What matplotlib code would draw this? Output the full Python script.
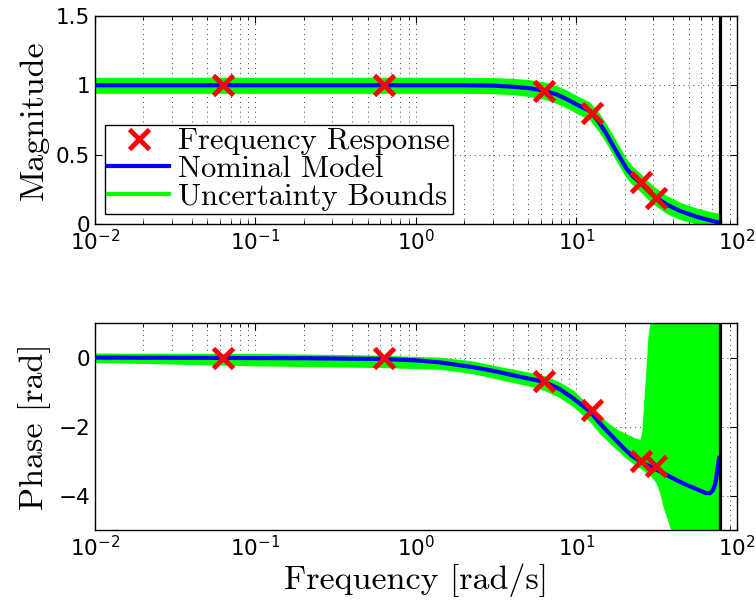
import matplotlib
matplotlib.use("Agg")
import matplotlib.pyplot as plt

# measured frequency response points
freq_meas = [0.0628, 0.628, 6.28, 12.57, 25.13, 31.42]
mag_meas = [1.0, 1.0, 0.961, 0.803, 0.30, 0.185]
phase_meas = [0.0, -0.02, -0.69, -1.52, -3.0, -3.14]

# nominal model + uncertainty bounds (magnitude)
freq_mag = [0.01, 0.1, 1, 2, 3, 4, 5, 6.28, 7.5, 8.72, 10.3, 12.1, 13.7, 15.3, 17.8, 20.5,
            22.6, 24.9, 27.5, 30.3, 36.5, 44, 56, 68, 78.5]
mag_nom = [1.0, 1.0, 1.0, 1.0, 0.998, 0.99, 0.98, 0.962, 0.935, 0.90, 0.855, 0.815, 0.74, 0.654, 0.52, 0.40,
           0.341, 0.30, 0.25, 0.205, 0.14, 0.095, 0.052, 0.027, 0.008]
mag_up = [1.058, 1.058, 1.058, 1.058, 1.056, 1.05, 1.042, 1.025, 0.998, 0.965, 0.92, 0.88, 0.81, 0.725, 0.595, 0.47,
          0.41, 0.368, 0.318, 0.272, 0.205, 0.158, 0.115, 0.09, 0.075]
mag_lo = [0.942, 0.942, 0.942, 0.942, 0.94, 0.933, 0.92, 0.90, 0.87, 0.835, 0.79, 0.75, 0.67, 0.585, 0.45, 0.33,
          0.275, 0.235, 0.185, 0.14, 0.075, 0.032, 0.0, 0.0, 0.0]

# nominal model (phase)
freq_ph = [0.01, 0.05, 0.2, 0.6, 1.0, 1.41, 2.28, 3.0, 3.66, 4.5, 5.3, 6.28, 7.8, 9.55, 12.1, 14, 16.1,
           19.5, 22, 24.9, 28, 31.5, 36, 41.9, 48, 55.8, 64.2, 68, 70.6, 73, 74.1, 75.9, 77.5]
phase_nom = [0.0, -0.01, -0.02, -0.04, -0.08, -0.14, -0.28, -0.38, -0.47, -0.56, -0.63, -0.70, -0.9, -1.18, -1.55, -1.9, -2.2,
             -2.6, -2.83, -3.0, -3.12, -3.24, -3.38, -3.54, -3.67, -3.8, -3.92, -3.92, -3.85, -3.68, -3.54, -3.2, -2.9]

# phase uncertainty bounds
freq_ph_up = [0.01, 0.1, 0.6, 1.41, 2.28, 3.66, 5, 6.28, 7.8, 9.55, 12.1, 14, 16.1, 18, 20.5, 22.5, 24.9,
              25.6, 26.0, 26.4, 26.9, 27.9, 28.9, 80]
phase_up = [0.13, 0.12, 0.07, 0.01, -0.1, -0.3, -0.42, -0.52, -0.7, -0.94, -1.4, -1.68, -1.92, -2.08, -2.2, -2.3, -2.37,
            -2.1, -1.61, -1.13, -0.6, 0.6, 1.1, 1.1]
freq_ph_lo = [0.01, 0.1, 0.6, 1.41, 2.28, 3.66, 5, 6.28, 7.8, 9.55, 12.1, 14, 16.1, 20.5, 23, 26.2, 29.4,
              31.5, 33.1, 34.7, 37, 39.3, 80]
phase_lo = [-0.14, -0.24, -0.29, -0.34, -0.47, -0.68, -0.82, -0.95, -1.15, -1.42, -1.85, -2.2, -2.48, -2.92, -3.1, -3.26, -3.45,
            -3.64, -3.93, -4.32, -4.7, -5.1, -5.1]

nyquist = 78.5

plt.rcParams['font.family'] = ['DejaVu Sans']
plt.rcParams['mathtext.default'] = 'regular'

fig = plt.figure(figsize=(7.56, 6.14), dpi=100)
ax1 = fig.add_axes([0.1257, 0.6352, 0.849, 0.3388])
ax2 = fig.add_axes([0.1257, 0.1360, 0.849, 0.3380])

serif = {'family': 'cmr10', 'size': 24.5}

for ax in (ax1, ax2):
    ax.set_xscale('log')
    ax.set_xlim(1e-2, 1e2)
    ax.grid(True, which='major', linestyle=(0, (1, 4)), color='k', lw=0.7, alpha=0.75)
    ax.grid(True, which='minor', axis='x', linestyle=(0, (1, 4)), color='k', lw=0.7, alpha=0.75)
    ax.tick_params(which='both', direction='in', top=True, right=True, labelsize=15.5)
    ax.tick_params(which='major', length=5)
    ax.tick_params(which='minor', length=3)
    for s in ax.spines.values():
        s.set_linewidth(1.0)
    ax.set_axisbelow(True)

# magnitude
ax1.fill_between(freq_mag, mag_lo, mag_up, color='#00ff00', lw=0, zorder=2)
ax1.plot(freq_mag, mag_nom, color='#0000ff', lw=3, zorder=3)
ax1.plot(freq_meas, mag_meas, 'x', color='#ff0000', ms=14, mew=3.5, zorder=4)
ax1.axvline(nyquist, color='k', lw=2.3, zorder=5)
ax1.set_ylim(0, 1.5)
ax1.set_yticks([0, 0.5, 1, 1.5])
ax1.set_yticklabels(['0', '0.5', '1', '1.5'])
ax1.set_ylabel('Magnitude', fontdict=serif, labelpad=5)

h_meas, = ax1.plot([], [], 'x', color='#ff0000', ms=14, mew=3.5)
h_nom, = ax1.plot([], [], color='#0000ff', lw=3)
h_unc, = ax1.plot([], [], color='#00ff00', lw=3)
leg = ax1.legend([h_meas, h_nom, h_unc],
                 ['Frequency Response', 'Nominal Model', 'Uncertainty Bounds'],
                 loc='upper left', bbox_to_anchor=(0.0156, 0.476),
                 prop={'family': 'cmr10', 'size': 22}, frameon=True, fancybox=False,
                 edgecolor='k', framealpha=1, handlelength=2.0, handletextpad=0.3,
                 labelspacing=0.0, borderpad=0.1, borderaxespad=0)
leg.get_frame().set_linewidth(1.0)

# phase
ax2.fill_between(freq_ph_up, -10, phase_up, color='#00ff00', lw=0, zorder=2)
ax2.fill_between(freq_ph_lo, -10, phase_lo, color='white', lw=0, zorder=2)
ax2.plot(freq_ph, phase_nom, color='#0000ff', lw=3, zorder=3)
ax2.plot(freq_meas, phase_meas, 'x', color='#ff0000', ms=14, mew=3.5, zorder=4)
ax2.axvline(nyquist, color='k', lw=2.3, zorder=5)
ax2.set_ylim(-5, 1)
ax2.set_yticks([-4, -2, 0])
ax2.set_ylabel('Phase [rad]', fontdict=serif, labelpad=5)
ax2.set_xlabel('Frequency [rad/s]', fontdict=serif, labelpad=2)

fig.savefig('out.png', dpi=100)
